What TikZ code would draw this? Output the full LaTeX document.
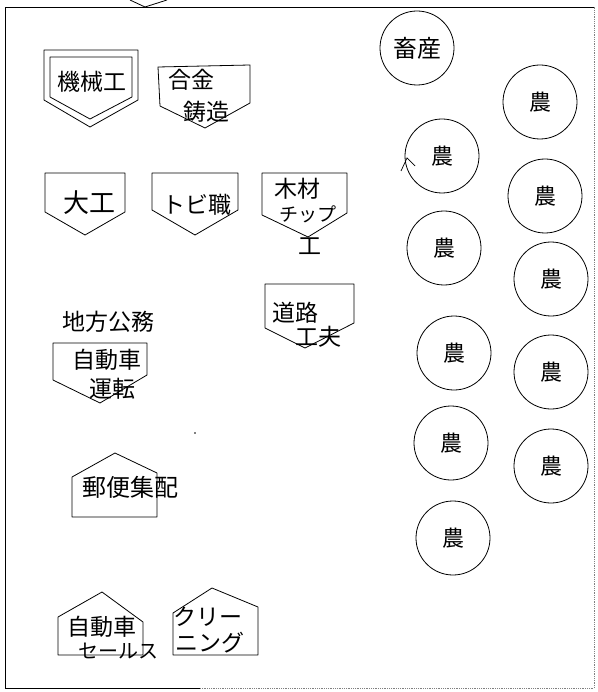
\documentclass[tikz,border=0pt]{standalone}
\usepackage{fontspec}
\newfontfamily\jp{Noto Sans CJK JP}
\begin{document}
\begin{tikzpicture}[x=1pt,y=-1pt,line width=0.8pt,
  lbl/.style={font=\jp\fontsize{23}{23}\selectfont, inner sep=0pt},
  slbl/.style={font=\jp\fontsize{19}{19}\selectfont, inner sep=0pt},
  farm/.style={circle, draw, line width=0.8pt, minimum size=74pt, inner sep=0pt, font=\jp\fontsize{22}{22}\selectfont},
  shp/.style={draw, line join=round},
  framefaint/.style={draw, densely dotted, gray}]
\useasboundingbox (0,0) rectangle (597,692);
% frame
\draw (594,7) -- (5,7) -- (5,688) -- (200,688);
\draw[framefaint] (200,688) -- (594,688) -- (594,7);
\draw (130,0) -- (145,7) -- (167,0);
% machine
\draw[shp] (44,50) -- (138,50) -- (138,100) -- (90,127) -- (44,100) -- cycle;
\draw[shp] (50,57) -- (132,57) -- (132,97) -- (90,119) -- (50,97) -- cycle;
\node[lbl] (kikai) at (92,82) {機械工};
% alloy casting
\draw[shp] (158,67) -- (250,65) -- (250,103) -- (205,128) -- (160,106) -- cycle;
\node[lbl] (gokin) at (191,80) {合金};
\node[lbl] (chuzo) at (206,112) {鋳造};
% carpenter
\draw[shp] (45,173) -- (125,173) -- (125,212) -- (85,235) -- (45,212) -- cycle;
\node[lbl, font=\jp\fontsize{26}{26}\selectfont] (daiku) at (89,203) {大工};
% tobi
\draw[shp] (152,173) -- (238,173) -- (238,210) -- (195,235) -- (152,210) -- cycle;
\node[lbl] (tobi) at (197,205) {トビ職};
% wood chip
\draw[shp] (262,173) -- (347,173) -- (347,213) -- (308,237) -- (262,215) -- cycle;
\node[lbl] (mokuzai) at (297,189) {木材};
\node[slbl] (chip) at (308,214) {チップ};
\node[lbl] (ko) at (310,246) {工};
% road worker
\draw[shp] (265,284) -- (354,284) -- (354,323) -- (305,348) -- (265,328) -- cycle;
\node[lbl] (doro) at (295,313) {道路};
\node[lbl] (kofu) at (318,337) {工夫};
% local government
\node[lbl] (chiho) at (108,322) {地方公務};
\draw[shp] (53,343) -- (147,343) -- (147,375) -- (100,403) -- (53,380) -- cycle;
\node[lbl] (jidosha1) at (107,360) {自動車};
\node[lbl] (unten) at (112,389) {運転};
% post
\draw[shp] (72,517) -- (72,477) -- (115,453) -- (157,473) -- (157,517) -- cycle;
\node[lbl,font=\jp\fontsize{24}{24}\selectfont] (yubin) at (130,487) {郵便集配};
% car sales
\draw[shp] (58,655) -- (58,617) -- (102,592) -- (143,622) -- (143,655) -- cycle;
\node[lbl] (jidosha2) at (102,627) {自動車};
\node[slbl,font=\jp\fontsize{20}{20}\selectfont] (sales) at (118,651) {セールス};
\draw[shp] (173,655) -- (173,613) -- (212,588) -- (258,607) -- (258,655) -- cycle;
\node[lbl] (kuri) at (208,617) {クリー};
\node[lbl] (ning) at (210,643) {ニング};
% circles
\node[farm, font=\jp\fontsize{24}{24}\selectfont] (chikusan) at (417,48) {畜産};
\node[farm] (n1) at (540,102) {農};
\node[farm] (n2) at (442,156) {農};
\node[farm] (n3) at (545,196) {農};
\node[farm] (n4) at (444,248) {農};
\node[farm] (n5) at (551,279) {農};
\node[farm] (n6) at (454,353) {農};
\node[farm] (n7) at (551,372) {農};
\node[farm] (n8) at (451,443) {農};
\node[farm] (n9) at (551,466) {農};
\node[farm] (n10) at (453,538) {農};
% stray marks
\draw[line width=0.7pt] (401,171) -- (407,158) -- (415,166);
\fill (195,433) circle (0.8);
\end{tikzpicture}
\end{document}
